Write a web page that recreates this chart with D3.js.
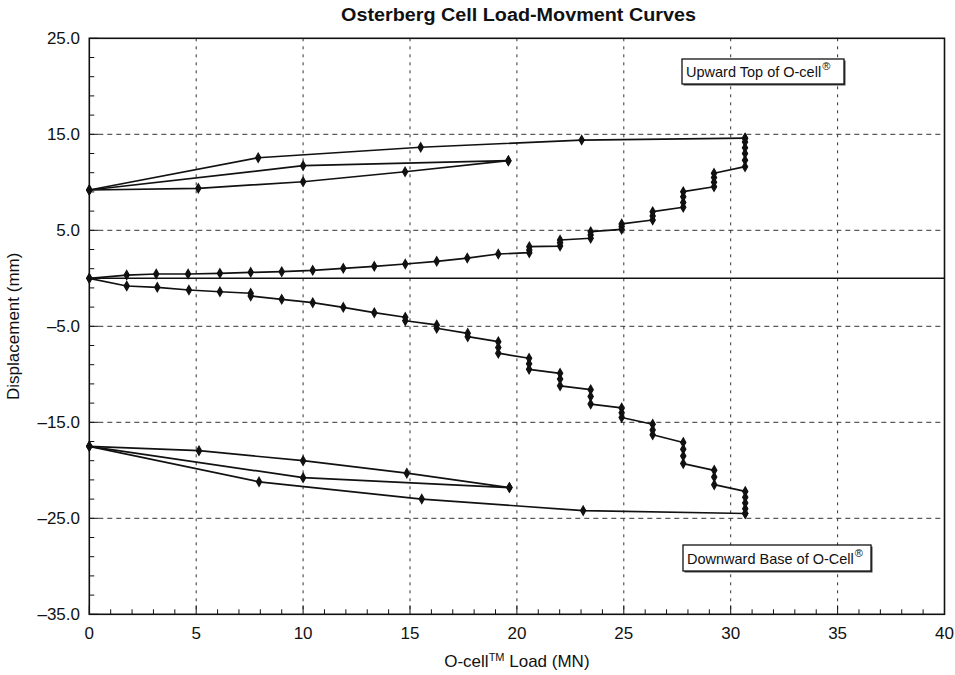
<!DOCTYPE html>
<html>
<head>
<meta charset="utf-8">
<script src="https://cdn.jsdelivr.net/npm/d3@7"></script>
<style>
  html, body { margin: 0; padding: 0; background: #fff; }
  svg { display: block; }
  text { font-family: "Liberation Sans", Arial, Helvetica, sans-serif; fill: #111; }
</style>
</head>
<body>
<svg id="chart" width="955" height="675"></svg>
<script>
// O-cell load test readings: [load (MN), displacement (mm)]
const upwardLoading = [
  [0, 0], [1.75, 0.34], [3.13, 0.45], [4.62, 0.45], [6.11, 0.52], [7.55, 0.62],
  [9.0, 0.69], [10.45, 0.83], [11.88, 1.04], [13.33, 1.25], [14.78, 1.49],
  [16.25, 1.77], [17.68, 2.11], [19.13, 2.53],
  [20.58, 2.67], [20.58, 2.95], [20.58, 3.29],
  [22.02, 3.36], [22.02, 3.7], [22.02, 3.99],
  [23.45, 4.17], [23.45, 4.5], [23.45, 4.86],
  [24.9, 5.1], [24.9, 5.4], [24.9, 5.66],
  [26.35, 6.07], [26.35, 6.5], [26.35, 6.94],
  [27.78, 7.4], [27.78, 7.9], [27.78, 8.5], [27.78, 9.02],
  [29.22, 9.54], [29.22, 10.0], [29.22, 10.5], [29.22, 10.94],
  [30.67, 11.63], [30.67, 12.3], [30.67, 13.0], [30.67, 13.6], [30.67, 14.2], [30.67, 14.6]
];
const upwardUnloading = [[30.67, 14.6], [23.03, 14.4], [15.5, 13.65], [7.9, 12.56], [0, 9.2]];
const upwardReloading = [[0, 9.2], [5.1, 9.37], [10.0, 10.06], [14.77, 11.1], [19.6, 12.25]];
const upwardReunloading = [[19.6, 12.25], [10.0, 11.73], [0, 9.2]];

const downwardLoading = [
  [0, 0], [1.75, -0.8], [3.18, -0.94], [4.66, -1.22], [6.11, -1.4],
  [7.55, -1.56], [7.55, -1.84], [9.0, -2.19], [10.45, -2.54], [11.88, -3.02],
  [13.33, -3.58], [14.78, -4.06], [14.78, -4.42],
  [16.25, -4.86], [16.25, -5.2],
  [17.7, -5.73], [17.7, -6.08],
  [19.13, -6.6], [19.13, -7.2], [19.13, -7.8],
  [20.57, -8.33], [20.57, -8.9], [20.57, -9.48],
  [22.02, -9.9], [22.02, -10.5], [22.02, -11.2],
  [23.45, -11.6], [23.45, -12.3], [23.45, -13.1],
  [24.9, -13.5], [24.9, -14.0], [24.9, -14.5],
  [26.35, -15.2], [26.35, -15.8], [26.35, -16.3],
  [27.78, -17.1], [27.78, -17.8], [27.78, -18.5], [27.78, -19.3],
  [29.23, -20.0], [29.23, -20.7], [29.23, -21.5],
  [30.68, -22.2], [30.68, -22.8], [30.68, -23.4], [30.68, -24.0], [30.68, -24.5]
];
const downwardUnloading = [[30.68, -24.5], [23.1, -24.2], [15.55, -23.0], [7.94, -21.2], [0, -17.5]];
const downwardReloading = [[0, -17.5], [5.13, -17.96], [10.0, -19.0], [14.85, -20.3], [19.65, -21.8]];
const downwardReunloading = [[19.65, -21.8], [10.0, -20.77], [0, -17.5]];

// Axis ticks and labels
const xTicks = [0, 5, 10, 15, 20, 25, 30, 35, 40];
const xTickLabels = ["0", "5", "10", "15", "20", "25", "30", "35", "40"];
const yTicks = [25, 15, 5, -5, -15, -25, -35];
const yTickLabels = ["25.0", "15.0", "5.0", "\u20135.0", "\u201315.0", "\u201325.0", "\u201335.0"];
const xMinorTicks = d3.range(0, 41, 1);
const yMinorTicks = d3.range(-35, 26, 2);

const svg = d3.select("#chart");
const x = d3.scaleLinear().domain([0, 40]).range([89.3, 944.5]);
const y = d3.scaleLinear().domain([-35, 25]).range([614.3, 38.3]);
const [x0, x1] = x.range();
const [yb, yt] = y.range();

// dashed grid
const grid = svg.append("g").attr("stroke", "#333").attr("stroke-width", 1).attr("fill", "none");
grid.selectAll("line.v").data(xTicks.filter(d => d > 0 && d < 40)).join("line")
  .attr("class", "v")
  .attr("x1", d => x(d)).attr("x2", d => x(d))
  .attr("y1", yt).attr("y2", yb)
  .attr("stroke-dasharray", "3,5");
grid.selectAll("line.h").data(yTicks.filter(d => d < 25 && d > -35)).join("line")
  .attr("class", "h")
  .attr("x1", x0).attr("x2", x1)
  .attr("y1", d => y(d)).attr("y2", d => y(d))
  .attr("stroke-dasharray", "5,4");

// minor ticks, drawn inward from the left and bottom edges
const minor = svg.append("g").attr("stroke", "#111").attr("stroke-width", 1);
minor.selectAll("line.xm").data(xMinorTicks).join("line")
  .attr("x1", d => x(d)).attr("x2", d => x(d))
  .attr("y1", yb).attr("y2", d => yb - (d % 5 === 0 ? 9 : 5));
minor.selectAll("line.ym").data(yMinorTicks).join("line")
  .attr("y1", d => y(d)).attr("y2", d => y(d))
  .attr("x1", x0).attr("x2", d => x0 + ((d + 35) % 10 === 0 ? 9 : 5));

// zero displacement reference line
svg.append("line")
  .attr("x1", x0).attr("x2", x1)
  .attr("y1", y(0)).attr("y2", y(0))
  .attr("stroke", "#111").attr("stroke-width", 1.6);

// curves
const line = d3.line().x(d => x(d[0])).y(d => y(d[1]));
const series = [
  upwardLoading, upwardUnloading, upwardReloading, upwardReunloading,
  downwardLoading, downwardUnloading, downwardReloading, downwardReunloading
];
const curves = svg.append("g");
curves.selectAll("path").data(series).join("path")
  .attr("d", line)
  .attr("fill", "none")
  .attr("stroke", "#111")
  .attr("stroke-width", 1.7)
  .attr("stroke-linejoin", "round");

const marker = d3.symbol().type(d3.symbolDiamond).size(24);
curves.selectAll("g.pts").data(series).join("g")
  .selectAll("path").data(d => d).join("path")
  .attr("d", marker)
  .attr("transform", d => `translate(${x(d[0])},${y(d[1])})`)
  .attr("fill", "#111")
  .attr("stroke", "#111")
  .attr("stroke-width", 1.2);

// frame
svg.append("rect")
  .attr("x", x0).attr("y", yt)
  .attr("width", x1 - x0).attr("height", yb - yt)
  .attr("fill", "none").attr("stroke", "#111").attr("stroke-width", 1.6);

// tick labels
svg.append("g").selectAll("text").data(xTicks).join("text")
  .attr("x", d => x(d)).attr("y", 639)
  .attr("text-anchor", "middle")
  .attr("font-size", 17)
  .text((d, i) => xTickLabels[i]);
svg.append("g").selectAll("text").data(yTicks).join("text")
  .attr("x", 80).attr("y", d => y(d) + 6)
  .attr("text-anchor", "end")
  .attr("font-size", 17)
  .text((d, i) => yTickLabels[i]);

// titles
svg.append("text")
  .attr("x", 341).attr("y", 21)
  .attr("font-size", 18).attr("font-weight", "bold")
  .attr("textLength", 355).attr("lengthAdjust", "spacingAndGlyphs")
  .text("Osterberg Cell Load-Movment Curves");

const xt = svg.append("text")
  .attr("x", (x0 + x1) / 2).attr("y", 667)
  .attr("text-anchor", "middle")
  .attr("font-size", 17);
xt.append("tspan").text("O-cell");
xt.append("tspan").attr("font-size", 11).attr("dy", -6).text("TM");
xt.append("tspan").attr("dy", 6).text(" Load (MN)");

svg.append("text")
  .attr("transform", `translate(19,${(yt + yb) / 2}) rotate(-90)`)
  .attr("text-anchor", "middle")
  .attr("font-size", 17)
  .text("Displacement (mm)");

// annotation boxes
function labelBox(bx, by, bw, bh, main) {
  const g = svg.append("g");
  g.append("rect").attr("x", bx + 1.5).attr("y", by + 1.5).attr("width", bw).attr("height", bh)
    .attr("fill", "#444");
  g.append("rect").attr("x", bx).attr("y", by).attr("width", bw).attr("height", bh)
    .attr("fill", "#fff").attr("stroke", "#111").attr("stroke-width", 1.3);
  const t = g.append("text").attr("x", bx + 4).attr("y", by + bh / 2 + 5.5)
    .attr("font-size", 14.5);
  t.append("tspan").text(main);
  t.append("tspan").attr("font-size", 11).attr("dx", 1).attr("dy", -7).text("\u00AE");
}
labelBox(682, 59, 162, 25, "Upward Top of O-cell");
labelBox(683, 545, 188, 26, "Downward Base of O-Cell");
</script>
</body>
</html>
